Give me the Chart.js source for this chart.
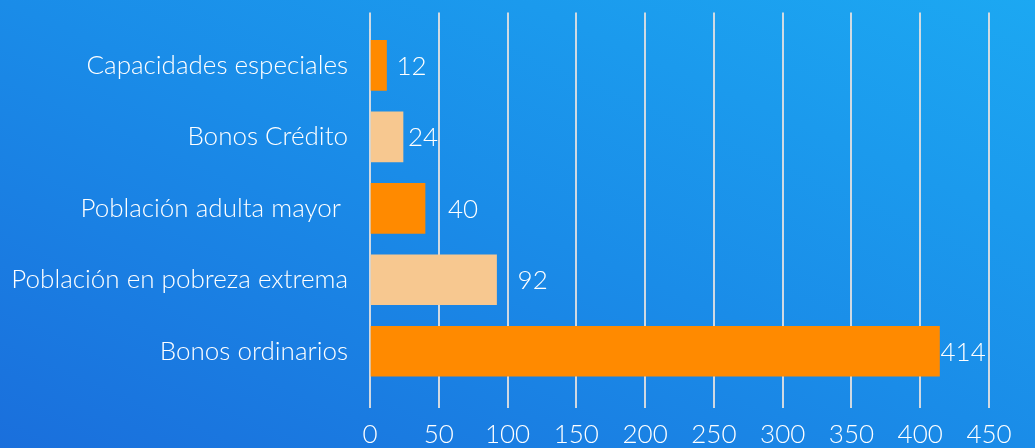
<!DOCTYPE html>
<html>
<head>
<meta charset="utf-8">
<script src="https://cdn.jsdelivr.net/npm/chart.js@4.4.1/dist/chart.umd.min.js"></script>
<style>
  html, body { margin: 0; padding: 0; }
  body {
    width: 1035px;
    height: 448px;
    overflow: hidden;
    background: linear-gradient(to top right, #1a6fdc 0%, #1a8ce8 50%, #1ca8f2 100%);
  }
</style>
</head>
<body>
<canvas id="chart" width="1035" height="448"></canvas>
<script>
// Data
const categories = [
  'Capacidades especiales',
  'Bonos Crédito',
  'Población adulta mayor ',
  'Población en pobreza extrema',
  'Bonos ordinarios'
];
const values = [12, 24, 40, 92, 414];
const xTicks = [0, 50, 100, 150, 200, 250, 300, 350, 400, 450];

// Styling
const barColors = ['#ff8a00', '#f7c890', '#ff8a00', '#f7c890', '#ff8a00'];
const labelOffsets = [10, 5, 23, 21, 1];
const FONT = 'Lato';
const WEIGHT = 300;
const gridColor = 'rgba(222, 224, 226, 0.92)';

// Value labels at the end of each bar
const valueLabels = {
  id: 'valueLabels',
  afterDatasetsDraw(chart) {
    const ctx = chart.ctx;
    const meta = chart.getDatasetMeta(0);
    ctx.save();
    ctx.fillStyle = '#ffffff';
    ctx.font = `${WEIGHT} 26px ${FONT}`;
    ctx.textAlign = 'left';
    ctx.textBaseline = 'middle';
    meta.data.forEach((bar, i) => {
      ctx.fillText(String(values[i]), bar.x + labelOffsets[i], bar.y + 1);
    });
    ctx.restore();
  }
};

const ctx = document.getElementById('chart').getContext('2d');
new Chart(ctx, {
  type: 'bar',
  data: {
    labels: categories,
    datasets: [{
      data: values,
      backgroundColor: barColors,
      borderWidth: 0,
      barThickness: 50
    }]
  },
  plugins: [valueLabels],
  options: {
    indexAxis: 'y',
    responsive: false,
    animation: false,
    layout: { padding: { top: 0, right: 46, bottom: 0, left: 0 } },
    plugins: {
      legend: { display: false },
      tooltip: { enabled: false }
    },
    scales: {
      x: {
        position: 'bottom',
        min: xTicks[0],
        max: xTicks[xTicks.length - 1],
        afterBuildTicks: scale => { scale.ticks = xTicks.map(v => ({ value: v })); },
        afterFit: scale => { scale.height = 61; },
        border: { display: false },
        grid: { color: gridColor, lineWidth: 2, tickLength: 21, tickColor: gridColor },
        ticks: {
          color: '#ffffff',
          padding: 14,
          maxRotation: 0,
          autoSkip: false,
          font: { family: FONT, size: 26, weight: WEIGHT, lineHeight: 1 }
        }
      },
      x2: {
        position: 'top',
        min: xTicks[0],
        max: xTicks[xTicks.length - 1],
        afterBuildTicks: scale => { scale.ticks = xTicks.map(v => ({ value: v })); },
        afterFit: scale => { scale.height = 15; },
        border: { display: false },
        grid: { color: gridColor, lineWidth: 2, tickLength: 17, tickColor: gridColor, drawOnChartArea: false },
        ticks: { display: false }
      },
      y: {
        afterFit: scale => { scale.width = 370; },
        border: { display: false },
        grid: { display: false },
        ticks: {
          color: '#ffffff',
          padding: 14,
          font: { family: FONT, size: 26, weight: WEIGHT }
        }
      }
    }
  }
});
</script>
</body>
</html>
